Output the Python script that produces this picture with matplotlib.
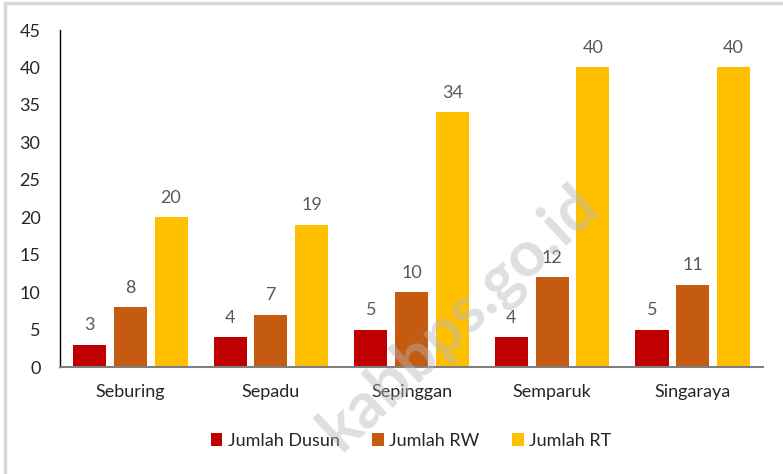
import numpy as np
import matplotlib
matplotlib.use("Agg")
import matplotlib.pyplot as plt
from matplotlib.patches import Rectangle

categories = ["Seburing", "Sepadu", "Sepinggan", "Semparuk", "Singaraya"]
dusun      = [3, 4, 5, 4, 5]
rw         = [8, 7, 10, 12, 11]
rt         = [20, 19, 34, 40, 40]

series_names  = ["Jumlah Dusun", "Jumlah RW", "Jumlah RT"]
series_colors = ["#C00000", "#C55A11", "#FFC000"]

plt.rcParams["font.family"] = ["Lato", "DejaVu Sans"]

fig = plt.figure(figsize=(7.83, 4.74), dpi=100)
ax  = fig.add_axes([0.0766, 0.2257, 0.898, 0.711])

x     = np.arange(len(categories))
width = 0.235
step  = 0.29

for i, (vals, name, col) in enumerate(zip([dusun, rw, rt], series_names, series_colors)) :
    pos  = x + (i - 1) * step
    bars = ax.bar(pos, vals, width, color=col, label=name)
    for b, v in zip(bars, vals) :
        ax.text(b.get_x() + b.get_width() / 2, v + 1.5, str(v),
                ha="center", va="bottom", fontsize=13, color="#595959")

ax.set_xlim(-0.5, len(categories) - 0.5)
ax.set_ylim(0, 45)
ax.set_yticks(range(0, 46, 5))
ax.set_xticks(x)
ax.set_xticklabels(categories)
ax.tick_params(axis="both", length=0, labelsize=13, colors="#262626")
ax.tick_params(axis="x", pad=12)
ax.tick_params(axis="y", pad=14)

for s in ["top", "right"] :
    ax.spines[s].set_visible(False)
ax.spines["left"].set_color("black")
ax.spines["left"].set_linewidth(1.0)
ax.spines["bottom"].set_color("#7f7f7f")
ax.spines["bottom"].set_linewidth(1.5)

leg = fig.legend(loc="center", bbox_to_anchor=(0.525, 0.07), ncol=3, frameon=False,
                 fontsize=13, handlelength=0.65, handleheight=0.65, handletextpad=0.3,
                 columnspacing=1.8)
for t in leg.get_texts() :
    t.set_color("#262626")

# watermark
fig.text(0.585, 0.33, "kabbps.go.id", rotation=43, fontsize=46, fontweight="bold",
         color="#b8b8b8", alpha=0.45, ha="center", va="center", zorder=10)

# figure border
fig.patches.append(Rectangle((0.006, -0.01), 1.2, 1.0035, transform=fig.transFigure,
                             fill=False, edgecolor="#d9d9d9", linewidth=2.5))

fig.savefig("out.png", dpi=100)
